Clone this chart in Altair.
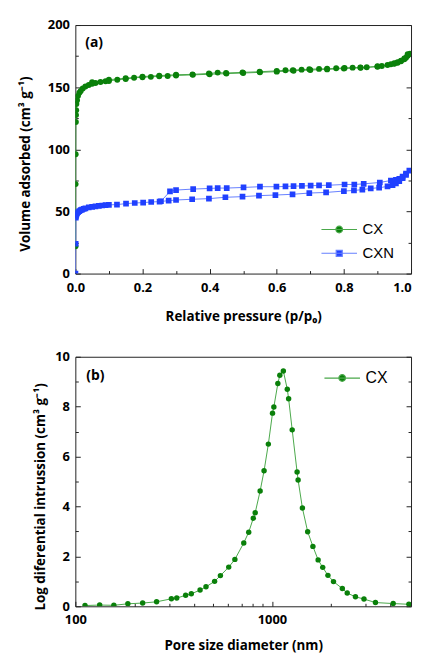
import altair as alt
import pandas as pd

# ---------------- panel (a): N2 isotherms ----------------
cx_ads_p = [0.0005, 0.0008, 0.001, 0.0015, 0.002, 0.0025, 0.003, 0.005, 0.008, 0.012,
            0.016, 0.022, 0.03, 0.04, 0.05, 0.06, 0.075, 0.09, 0.1, 0.125,
            0.15, 0.175, 0.2, 0.225, 0.25, 0.275, 0.3, 0.35, 0.4, 0.45,
            0.5, 0.55, 0.6, 0.65, 0.7, 0.75, 0.8, 0.85, 0.9, 0.93,
            0.95, 0.96, 0.97, 0.98, 0.985, 0.99, 0.997]
cx_ads_v = [22, 72, 96, 122, 127.5, 131.5, 136.5, 139.5, 143, 145.5,
            147, 149, 150.5, 151.8, 152.7, 153.3, 154.1, 154.7, 155, 156,
            156.5, 157.5, 158, 158.3, 158.7, 159, 159.4, 159.9, 160.4, 160.9,
            161.4, 161.9, 162.5, 163.2, 163.8, 164.3, 165, 165.6, 166.5, 167.8,
            168.9, 169.7, 170.8, 172.4, 173.7, 175.3, 177]
cx_des_p = [0.99, 0.98, 0.97, 0.96, 0.95, 0.94, 0.913, 0.9, 0.868, 0.849,
            0.826, 0.802, 0.777, 0.75, 0.726, 0.697, 0.674, 0.648, 0.626, 0.6,
            0.549, 0.498, 0.449, 0.424, 0.398, 0.349, 0.3, 0.25, 0.2, 0.15,
            0.1, 0.05]
cx_des_v = [176.5, 173, 171.2, 170, 169.2, 168.5, 167.1, 166.8, 166, 165.8,
            165.7, 165.5, 165.2, 164.8, 164.7, 164.4, 164.1, 163.7, 163.6, 163.1,
            162.4, 161.9, 161.4, 161.7, 161, 160.3, 160, 159.3, 158.5, 157.2,
            156, 154]

cxn_ads_p = [0.0003, 0.001, 0.0015, 0.002, 0.003, 0.005, 0.008, 0.012, 0.016, 0.02,
             0.025, 0.03, 0.04, 0.05, 0.06, 0.07, 0.08, 0.09, 0.1, 0.124,
             0.151, 0.177, 0.202, 0.226, 0.251, 0.278, 0.3, 0.348, 0.398, 0.447,
             0.498, 0.547, 0.596, 0.647, 0.697, 0.747, 0.8, 0.83, 0.855, 0.88,
             0.905, 0.93, 0.945, 0.955, 0.965, 0.975, 0.985, 0.995]
cxn_ads_v = [0, 24, 45, 46.5, 47.5, 48.5, 49.5, 50.3, 51, 51.5,
             52, 52.5, 53.2, 53.7, 54.1, 54.5, 54.8, 55.1, 55.3, 55.5,
             56.3, 56.8, 57.1, 57.6, 57.9, 58.7, 59.2, 59.8, 60.3, 61.4,
             61.9, 62.7, 63.2, 63.8, 64.8, 65.3, 66.4, 66.9, 67.5, 68.5,
             69.1, 70.1, 71.2, 72.5, 74.4, 76.8, 79.4, 82.9]
cxn_des_p = [0.985, 0.975, 0.965, 0.955, 0.94, 0.907, 0.859, 0.831, 0.802, 0.755,
             0.726, 0.701, 0.675, 0.65, 0.626, 0.599, 0.55, 0.501, 0.451, 0.424,
             0.4, 0.351, 0.3, 0.282, 0.255]
cxn_des_v = [80.5, 78, 76.3, 75.5, 74.9, 73.3, 72.2, 71.7, 71.7, 71.1,
             70.9, 70.7, 70.5, 70.4, 70.1, 69.9, 69.9, 69.3, 68.8, 68.8,
             68.5, 68, 67.2, 66.1, 58.2]

# ---------------- panel (b): pore size distribution ----------------
pore_d = [112, 133, 157, 185, 220, 259, 308, 328, 364, 389,
          431, 462, 511, 547, 603, 648, 719, 762, 804, 822,
          871, 912, 959, 1007, 1023, 1072, 1097, 1143, 1197, 1216,
          1268, 1343, 1359, 1429, 1520, 1616, 1718, 1813, 1927, 2057,
          2281, 2416, 2660, 2939, 3362, 4138, 4973]
pore_v = [0.03, 0.05, 0.04, 0.10, 0.13, 0.18, 0.30, 0.33, 0.44, 0.50,
          0.65, 0.78, 1.00, 1.23, 1.57, 1.88, 2.54, 2.97, 3.53, 3.75,
          4.62, 5.43, 6.50, 7.74, 7.99, 8.93, 9.26, 9.43, 8.70, 8.32,
          7.07, 5.38, 5.06, 3.94, 2.99, 2.40, 1.86, 1.56, 1.24, 0.99,
          0.71, 0.53, 0.38, 0.29, 0.15, 0.11, 0.08]

series_a = ["CX", "CXN"]
series_b = ["CX"]

# ticks
a_x_major = [0.0, 0.2, 0.4, 0.6, 0.8, 1.0]
a_x_minor = [0.1, 0.3, 0.5, 0.7, 0.9]
a_y_major = [0, 50, 100, 150, 200]
a_y_minor = [25, 75, 125, 175]
b_x_major = [100, 1000]
b_x_minor = [200, 300, 400, 500, 600, 700, 800, 900, 2000, 3000, 4000, 5000]
b_y_major = [0, 2, 4, 6, 8, 10]
b_y_minor = [1, 3, 5, 7, 9]

GREEN = "#0a800a"
GREEN_LINE = "#4aa84a"
BLUE = "#2040ff"
BLUE_LINE = "#6680ff"
FONT = "Open Sans"
LEG_FONT = "Liberation Sans"

W1, H1 = 339, 251
W2, H2 = 339, 252

PATH_CIRCLE = "M-1.71,0H1.71M0.32,0A0.32,0.32,0,1,1,-0.32,0A0.32,0.32,0,1,1,0.32,0Z"
PATH_SQUARE = "M-1.71,0H1.71M-0.29,-0.29H0.29V0.29H-0.29Z"


def iso_df(ads_p, ads_v, des_p, des_v):
    p = list(ads_p) + list(des_p)
    v = list(ads_v) + list(des_v)
    return pd.DataFrame({"p": p, "v": v, "idx": list(range(len(p)))})


def main_axis(orient, values, fmt, title, pad, tpad, align=None, title_y=None):
    kw = {}
    if align is not None:
        kw["labelAlign"] = align
    if title_y is not None:
        kw["titleY"] = title_y
    return alt.Axis(orient=orient, values=values, format=fmt, title=title,
                    ticks=False, tickSize=0, domain=False, grid=False,
                    labelFont=FONT, labelFontSize=13, labelFontWeight="bold",
                    labelColor="black", labelPadding=pad, labelFlush=False,
                    labelOverlap=False,
                    titleFont=FONT, titleFontSize=13.5, titleFontWeight="bold",
                    titleColor="black", titlePadding=tpad, **kw)


def tick_axis(orient, values, size, offset):
    return alt.Axis(orient=orient, values=values, tickSize=size, offset=offset,
                    labels=False, domain=False, grid=False, title=None,
                    ticks=True, tickColor="#222", tickWidth=1, minExtent=0)


def tick_layers(df, xf, yf, xs, ys, W, H, xmaj, xmin, ymaj, ymin):
    out = []
    specs = [
        (tick_axis("top", xmaj, 5, -H), tick_axis("right", ymaj, 5, -W)),
        (tick_axis("top", xmin, 3, -H), tick_axis("right", ymin, 3, -W)),
        (None, tick_axis("left", ymaj, 5, -W)),
        (None, tick_axis("left", ymin, 3, -W)),
    ]
    for xa, ya in specs:
        out.append(alt.Chart(df).mark_point(opacity=0).encode(
            x=alt.X(xf, type="quantitative", scale=xs, axis=xa),
            y=alt.Y(yf, type="quantitative", scale=ys, axis=ya),
        ))
    return out


def legend(x, y, size):
    return alt.Legend(orient="none", legendX=x, legendY=y, title=None,
                      symbolSize=441, symbolStrokeWidth=1.2, symbolOpacity=1,
                      labelFont=LEG_FONT, labelFontSize=size, labelColor="black",
                      labelOffset=12, rowPadding=4, padding=0)


# ---------- panel (a) ----------
xs_a = alt.Scale(domain=[0, 1], nice=False, zero=False)
ys_a = alt.Scale(domain=[0, 200], nice=False, zero=False)
df_cx = iso_df(cx_ads_p, cx_ads_v, cx_des_p, cx_des_v)
df_cxn = iso_df(cxn_ads_p, cxn_ads_v, cxn_des_p, cxn_des_v)

last_right = {"condition": {"test": "datum.value >= 1", "value": "right"}, "value": "center"}

base_a = alt.Chart(df_cx).mark_line(color=GREEN_LINE, strokeWidth=1, clip=True).encode(
    x=alt.X("p:Q", scale=xs_a,
            axis=main_axis("bottom", a_x_major, ".1f", "Relative pressure (p/p\u2080)", 8, 15,
                           align=last_right)),
    y=alt.Y("v:Q", scale=ys_a,
            axis=main_axis("left", a_y_major, "d", "Volume adsorbed (cm\u00b3 g\u207b\u00b9)", 6, 15,
                           title_y=140)),
    order="idx:Q",
)
pts_cx = alt.Chart(df_cx).mark_circle(color=GREEN, size=36, opacity=1, clip=True).encode(
    x=alt.X("p:Q", scale=xs_a, axis=None), y=alt.Y("v:Q", scale=ys_a, axis=None))
line_cxn = alt.Chart(df_cxn).mark_line(color=BLUE_LINE, strokeWidth=1, clip=True).encode(
    x=alt.X("p:Q", scale=xs_a, axis=None), y=alt.Y("v:Q", scale=ys_a, axis=None),
    order="idx:Q")
pts_cxn = alt.Chart(df_cxn).mark_square(color=BLUE, size=33, opacity=1, clip=True).encode(
    x=alt.X("p:Q", scale=xs_a, axis=None), y=alt.Y("v:Q", scale=ys_a, axis=None))

leg_a_df = pd.DataFrame({"series": series_a, "p": [0.5, 0.5], "v": [100, 100]})
leg_a = legend(255, 195, 15)
legend_a = alt.Chart(leg_a_df).mark_point(opacity=0, filled=True).encode(
    x=alt.X("p:Q", scale=xs_a, axis=None), y=alt.Y("v:Q", scale=ys_a, axis=None),
    fill=alt.Fill("series:N", scale=alt.Scale(domain=series_a, range=[GREEN, BLUE]), legend=leg_a),
    stroke=alt.Stroke("series:N", scale=alt.Scale(domain=series_a, range=[GREEN_LINE, BLUE_LINE]), legend=leg_a),
    shape=alt.Shape("series:N", scale=alt.Scale(domain=series_a, range=[PATH_CIRCLE, PATH_SQUARE]), legend=leg_a),
)
label_a = alt.Chart(leg_a_df.head(1)).mark_text(
    text="(a)", font=FONT, fontSize=14, fontWeight="bold", color="black",
    align="left", baseline="middle").encode(x=alt.value(10), y=alt.value(18))

panel_a = alt.layer(
    base_a, line_cxn, pts_cx, pts_cxn, legend_a, label_a,
    *tick_layers(df_cx, "p", "v", xs_a, ys_a, W1, H1, a_x_major, a_x_minor, a_y_major, a_y_minor)
).resolve_axis(x="independent", y="independent").properties(width=W1, height=H1)

# ---------- panel (b) ----------
xs_b = alt.Scale(type="log", domain=[100, 5100], nice=False, zero=False)
ys_b = alt.Scale(domain=[0, 10], nice=False, zero=False)
df_b = pd.DataFrame({"d": pore_d, "v": pore_v})

line_b = alt.Chart(df_b).mark_line(color=GREEN_LINE, strokeWidth=1, clip=True).encode(
    x=alt.X("d:Q", scale=xs_b,
            axis=main_axis("bottom", b_x_major, "d", "Pore size diameter (nm)", 7, 13)),
    y=alt.Y("v:Q", scale=ys_b,
            axis=main_axis("left", b_y_major, "d",
                           "Log diferential intrussion (cm\u00b3 g\u207b\u00b9)", 6, 7,
                           title_y=141)),
)
pts_b = alt.Chart(df_b).mark_circle(color=GREEN, size=30, opacity=1, clip=True).encode(
    x=alt.X("d:Q", scale=xs_b, axis=None), y=alt.Y("v:Q", scale=ys_b, axis=None))

leg_b_df = pd.DataFrame({"series": series_b, "d": [1000], "v": [5]})
leg_b = legend(258, 10, 16)
legend_b = alt.Chart(leg_b_df).mark_point(opacity=0, filled=True).encode(
    x=alt.X("d:Q", scale=xs_b, axis=None), y=alt.Y("v:Q", scale=ys_b, axis=None),
    fill=alt.Fill("series:N", scale=alt.Scale(domain=series_b, range=[GREEN]), legend=leg_b),
    stroke=alt.Stroke("series:N", scale=alt.Scale(domain=series_b, range=[GREEN_LINE]), legend=leg_b),
    shape=alt.Shape("series:N", scale=alt.Scale(domain=series_b, range=[PATH_CIRCLE]), legend=leg_b),
)
label_b = alt.Chart(leg_b_df).mark_text(
    text="(b)", font=FONT, fontSize=14, fontWeight="bold", color="black",
    align="left", baseline="middle").encode(x=alt.value(11), y=alt.value(19))

panel_b = alt.layer(
    line_b, pts_b, legend_b, label_b,
    *tick_layers(df_b, "d", "v", xs_b, ys_b, W2, H2, b_x_major, b_x_minor, b_y_major, b_y_minor)
).resolve_axis(x="independent", y="independent").properties(width=W2, height=H2)

chart = alt.vconcat(panel_a, panel_b, spacing=27).resolve_scale(
    x="independent", y="independent", fill="independent",
    stroke="independent", shape="independent",
).properties(
    padding={"left": 10, "top": 7, "right": 0, "bottom": 0}
).configure_view(stroke="#222", strokeWidth=1)

chart.save("out.html", embed_options={"renderer": "svg", "actions": False})
